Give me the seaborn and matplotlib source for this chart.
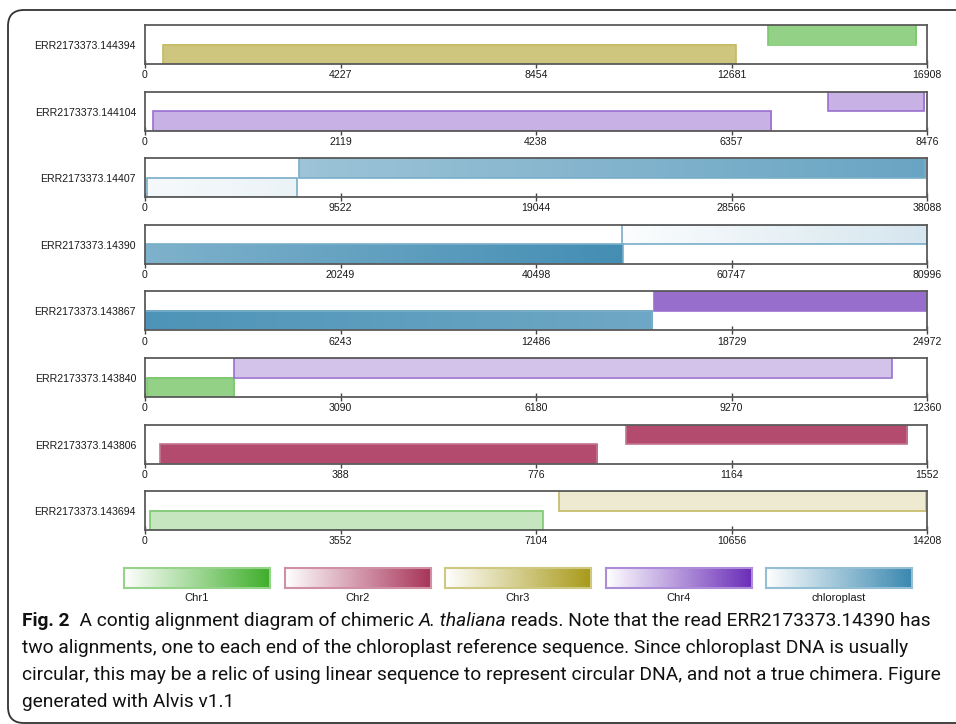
import numpy as np
import matplotlib
matplotlib.use('Agg')
import matplotlib.pyplot as plt
import seaborn as sns
from matplotlib.patches import FancyBboxPatch
from matplotlib.transforms import IdentityTransform

sns.set_style('white')
plt.rcParams['font.family'] = ['Liberation Sans', 'DejaVu Sans']

# reads and their lengths
read_names = ['ERR2173373.144394', 'ERR2173373.144104', 'ERR2173373.14407', 'ERR2173373.14390',
              'ERR2173373.143867', 'ERR2173373.143840', 'ERR2173373.143806', 'ERR2173373.143694']
read_lengths = [16908, 8476, 38088, 80996, 24972, 12360, 1552, 14208]

# first alignment (lower track)
lower_start = [390, 83, 112, 0, 0, 36, 30, 96]
lower_end = [12773, 6784, 7406, 49497, 16206, 1412, 898, 7229]
lower_chrom = ['Chr3', 'Chr4', 'chloroplast', 'chloroplast', 'chloroplast', 'Chr1', 'Chr2', 'Chr1']
lower_shade_from = [0.56, 0.37, 0.05, 0.65, 0.90, 0.56, 0.88, 0.30]
lower_shade_to = [0.56, 0.37, 0.10, 0.95, 0.73, 0.56, 0.88, 0.30]

# second alignment (upper track)
upper_start = [13466, 7402, 7503, 49456, 16251, 1412, 954, 7530]
upper_end = [16670, 8443, 38005, 80950, 24960, 11807, 1513, 14183]
upper_chrom = ['Chr1', 'Chr4', 'chloroplast', 'chloroplast', 'Chr4', 'Chr4', 'Chr2', 'Chr3']
upper_shade_from = [0.56, 0.37, 0.50, 0.02, 0.69, 0.29, 0.88, 0.20]
upper_shade_to = [0.56, 0.37, 0.76, 0.21, 0.69, 0.29, 0.88, 0.20]

chrom_names = ['Chr1', 'Chr2', 'Chr3', 'Chr4', 'chloroplast']
chrom_colors = ['#3fae2a', '#a8345a', '#a89a1a', '#6a2db8', '#3a88b0']

caption_lines = [
    [('Fig. 2', 'normal', 'bold'), ('  A contig alignment diagram of chimeric ', 'normal', 'normal'),
     ('A. thaliana', 'italic', 'normal'), (' reads. Note that the read ERR2173373.14390 has', 'normal', 'normal')],
    [('two alignments, one to each end of the chloroplast reference sequence. Since chloroplast DNA is usually',
      'normal', 'normal')],
    [('circular, this may be a relic of using linear sequence to represent circular DNA, and not a true chimera. Figure',
      'normal', 'normal')],
    [('generated with Alvis v1.1', 'normal', 'normal')],
]

W, H = 956, 724
fig = plt.figure(figsize=(W / 100, H / 100), dpi=100)
fig.patch.set_facecolor('white')

cmaps = {n: sns.blend_palette(['white', c], as_cmap=True) for n, c in zip(chrom_names, chrom_colors)}


def px_axes(left, top, width, height):
    return fig.add_axes([left / W, 1 - (top + height) / H, width / W, height / H])


def draw_alignment(ax, x0, x1, y0, chrom, s0, s1):
    cmap = cmaps[chrom]
    grad = np.linspace(s0, s1, 256).reshape(1, -1)
    ax.imshow(grad, extent=[x0, x1, y0, y0 + 1], cmap=cmap, vmin=0, vmax=1,
              aspect='auto', interpolation='bilinear', zorder=1)
    ax.barh(y0, x1 - x0, left=x0, height=1, align='edge', fill=False,
            edgecolor=cmap(0.68), linewidth=1.2, zorder=2)


ax_left, ax_width, ax_h = 145, 782, 39
for i, name in enumerate(read_names):
    top = 25 + i * 66.6
    ax = px_axes(ax_left, top, ax_width, ax_h)
    L = read_lengths[i]
    draw_alignment(ax, lower_start[i], lower_end[i], 0, lower_chrom[i], lower_shade_from[i], lower_shade_to[i])
    draw_alignment(ax, upper_start[i], upper_end[i], 1, upper_chrom[i], upper_shade_from[i], upper_shade_to[i])
    ax.set_xlim(0, L)
    ax.set_ylim(0, 2)
    ticks = np.linspace(0, L, 5)
    ax.set_xticks(ticks)
    ax.set_xticklabels([f'{int(round(t))}' for t in ticks])
    ax.set_yticks([])
    for sp in ax.spines.values():
        sp.set_visible(True)
        sp.set_color('#5a5a5a')
        sp.set_linewidth(1.3)
    ax.tick_params(axis='x', direction='inout', length=6, width=1, color='#444444',
                   labelsize=7.6, labelcolor='#1a1a1a', pad=1.5, bottom=True)
    fig.text((ax_left - 9) / W, 1 - (top + 21) / H, name, ha='right', va='center',
             fontsize=7.6, color='#1a1a1a')

# legend with colour gradients
for j, (name, color) in enumerate(zip(chrom_names, chrom_colors)):
    lx = 124 + j * 160.5
    lax = px_axes(lx, 568, 146, 20)
    lax.imshow(np.linspace(0, 1, 256).reshape(1, -1), cmap=cmaps[name], vmin=0, vmax=1,
               aspect='auto', interpolation='bilinear')
    lax.set_xticks([])
    lax.set_yticks([])
    for sp in lax.spines.values():
        sp.set_visible(True)
        sp.set_color(cmaps[name](0.55))
        sp.set_linewidth(1.5)
    fig.text((lx + 73) / W, 1 - 598 / H, name, ha='center', va='center', fontsize=8, color='#1a1a1a')

# caption
cap_font = ['Roboto', 'Liberation Sans', 'DejaVu Sans']
renderer = fig.canvas.get_renderer()
baselines = [626, 653, 680, 707]


def place_caption(size):
    arts = []
    widths = []
    for pieces, yb in zip(caption_lines, baselines):
        x = 22
        for txt, style, weight in pieces:
            t = fig.text(x / W, 1 - yb / H, txt, fontsize=size, fontstyle=style, fontweight=weight,
                         family=cap_font, ha='left', va='baseline', color='#111111')
            x += t.get_window_extent(renderer).width
            arts.append(t)
        widths.append(x - 22)
    return arts, widths


arts, widths = place_caption(13)
size = 13 * 918 / widths[2]
for a in arts:
    a.remove()
place_caption(size)

# rounded frame around the figure
frame = FancyBboxPatch((8, 1), 990, 713, boxstyle='round,pad=0,rounding_size=16',
                       transform=IdentityTransform(), fill=False, edgecolor='#333333', linewidth=1.3)
fig.add_artist(frame)

fig.savefig('out.png', dpi=100, facecolor='white')
